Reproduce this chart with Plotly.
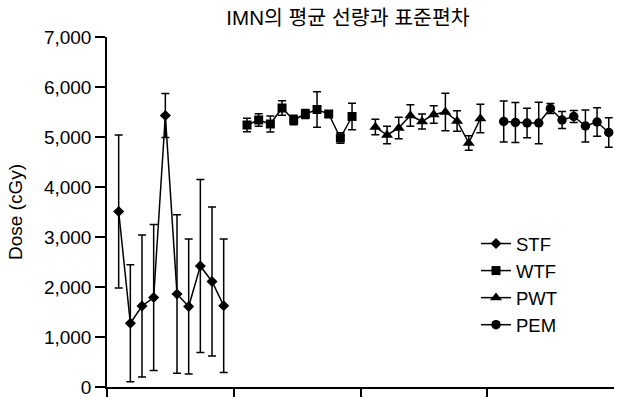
import plotly.graph_objects as go

groups = ["STF", "WTF", "PWT", "PEM"]
x_stf = [1, 2, 3, 4, 5, 6, 7, 8, 9, 10]
x_wtf = [12, 13, 14, 15, 16, 17, 18, 19, 20, 21]
x_pwt = [23, 24, 25, 26, 27, 28, 29, 30, 31, 32]
x_pem = [34, 35, 36, 37, 38, 39, 40, 41, 42, 43]

stf_mean = [3510, 1275, 1620, 1790, 5430, 1860, 1610, 2420, 2110, 1625]
stf_sd = [1530, 1170, 1420, 1460, 440, 1585, 1350, 1730, 1490, 1335]
wtf_mean = [5240, 5340, 5260, 5580, 5340, 5460, 5550, 5460, 4980, 5410]
wtf_sd = [135, 127, 160, 145, 95, 90, 355, 55, 105, 265]
pwt_mean = [5200, 5040, 5180, 5430, 5310, 5450, 5500, 5320, 4880, 5370]
pwt_sd = [155, 175, 215, 215, 150, 175, 375, 205, 145, 285]
pem_mean = [5310, 5290, 5280, 5280, 5570, 5340, 5410, 5220, 5300, 5090]
pem_sd = [410, 400, 295, 415, 100, 170, 120, 320, 285, 295]

y_ticks = [0, 1000, 2000, 3000, 4000, 5000, 6000, 7000]
x_ticks = [0, 10.85, 21.73, 32.6]

series = [
    ("STF", x_stf, stf_mean, stf_sd, "diamond", 8.5),
    ("WTF", x_wtf, wtf_mean, wtf_sd, "square", 9),
    ("PWT", x_pwt, pwt_mean, pwt_sd, "triangle-up", 10.5),
    ("PEM", x_pem, pem_mean, pem_sd, "circle", 9.5),
]

fig = go.Figure()
for i, (name, xs, ys, sd, sym, sz) in enumerate(series):
    fig.add_trace(go.Scatter(
        x=xs, y=ys, name=name, mode="lines+markers",
        line=dict(color="black", width=1.5),
        marker=dict(symbol=sym, size=sz, color="black"),
        error_y=dict(type="data", array=sd, visible=True,
                     color="black", thickness=1.5, width=4),
    ))

fig.update_layout(
    width=619, height=398,
    margin=dict(l=107, r=5, t=37, b=11, autoexpand=False),
    paper_bgcolor="white", plot_bgcolor="white",
    font=dict(family="Liberation Sans, Arial, sans-serif", size=19, color="black"),
    title=dict(text="IMN의 평균 선량과 표준편차",
               font=dict(family="Liberation Sans, Noto Sans CJK KR", size=20.5, color="black"),
               x=348/619, xref="container", xanchor="center",
               y=1-18/398, yref="container", yanchor="middle"),
    showlegend=True,
    legend=dict(x=(476-107)/507, y=(387-225)/350, xanchor="left", yanchor="top",
                xref="paper", yref="paper",
                bgcolor="rgba(0,0,0,0)", borderwidth=0,
                font=dict(size=18.5, color="black")),
    xaxis=dict(range=[0, 43.45], showgrid=False, zeroline=False,
               showline=True, linecolor="black", linewidth=1.5,
               tickmode="array", tickvals=x_ticks, ticktext=["", "", "", ""],
               ticks="outside", ticklen=8, tickwidth=1.5, tickcolor="black"),
    yaxis=dict(range=[0, 7000], showgrid=False, zeroline=False,
               showline=True, linecolor="black", linewidth=1.5,
               tickmode="array", tickvals=y_ticks, tickformat=",d",
               ticks="outside", ticklen=10, tickwidth=1.5, tickcolor="black",
               title=dict(text="Dose (cGy)", font=dict(size=19), standoff=16)),
)

fig.write_html("out.html", config={"displayModeBar": False},
               post_script="document.body.style.margin='0';document.body.style.padding='0';")
